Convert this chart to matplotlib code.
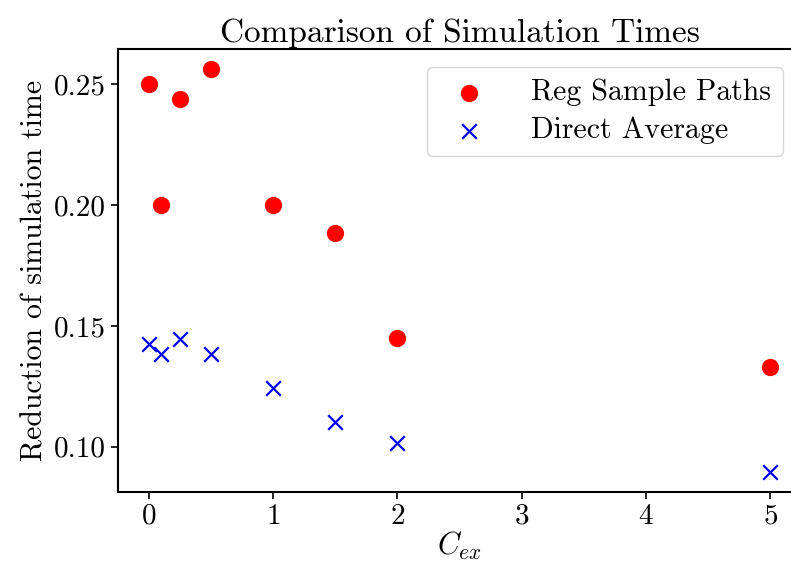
import matplotlib
matplotlib.use("Agg")
import matplotlib.pyplot as plt
from matplotlib.ticker import MultipleLocator, FormatStrFormatter

plt.rcParams['font.family'] = 'serif'
plt.rcParams['font.serif'] = ['cmr10', 'DejaVu Serif']
plt.rcParams['mathtext.fontset'] = 'cm'
plt.rcParams['axes.formatter.use_mathtext'] = True

c_ex = [0, 0.1, 0.25, 0.5, 1, 1.5, 2, 5]
reg_sample_paths = [0.250, 0.200, 0.2438, 0.2562, 0.200, 0.1885, 0.1449, 0.133]
direct_average = [0.1426, 0.1384, 0.1446, 0.1384, 0.1245, 0.1104, 0.1017, 0.0897]

fig = plt.figure(figsize=(7.91, 5.64), dpi=100)
ax = fig.add_axes([0.149, 0.128, 0.864, 0.785])

ax.scatter(c_ex, reg_sample_paths, color='red', marker='o', s=130, label='Reg Sample Paths')
ax.scatter(c_ex, direct_average, color='blue', marker='x', s=110, linewidths=1.6, label='Direct Average')

ax.yaxis.set_major_locator(MultipleLocator(0.05))
ax.yaxis.set_major_formatter(FormatStrFormatter('%.2f'))

ax.set_title('Comparison of Simulation Times', fontsize=24, pad=5)
ax.set_xlabel(r'$C_{ex}$', fontsize=22, labelpad=0)
ax.set_ylabel('Reduction of simulation time', fontsize=21.5)
ax.tick_params(labelsize=21, width=1.2, length=5)
for s in ax.spines.values():
    s.set_linewidth(1.5)
ax.legend(loc='upper right', fontsize=21.5, borderpad=0.4, labelspacing=0.35,
          handletextpad=1.1, borderaxespad=0.6)

fig.savefig('out.png', dpi=100)
